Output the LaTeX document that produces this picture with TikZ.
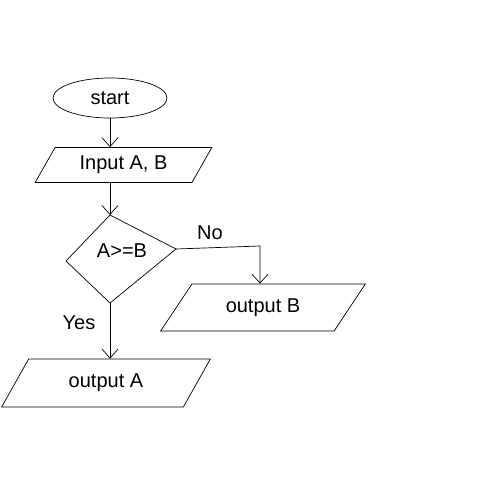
\documentclass[tikz,border=0pt]{standalone}
\usepackage{fontspec}
\setmainfont{Liberation Sans}
\usetikzlibrary{shapes.geometric,arrows.meta}
\begin{document}
\begin{tikzpicture}[x=1pt,y=-1pt,
  every node/.style={font=\fontsize{20}{22}\selectfont},
  line/.style={draw=black,line width=0.7pt},
  arr/.style={line,-{Straight Barb[length=9pt,width=16pt]}},
  term/.style={line,ellipse,minimum width=114pt,minimum height=40pt,inner sep=0pt},
  io/.style={line,trapezium,trapezium stretches=true,inner sep=0pt},
  lbl/.style={inner sep=1pt}]
\useasboundingbox (0,0) rectangle (496,480);
% start
\node[term] (start) at (110,98) {start};
% input
\node[io,minimum width=177pt,minimum height=35pt,
      trapezium left angle=54.5,trapezium right angle=125.5] (inp) at (123.5,165) {Input A, B};
% decision
\coordinate (dtop) at (110,215);
\coordinate (dright) at (176,249);
\coordinate (dbot) at (110,303);
\coordinate (dleft) at (66,261);
\draw[line] (dtop) -- (dright) -- (dbot) -- (dleft) -- cycle;
\node[lbl] (dtext) at (122,251) {A>=B};
% outputs
\node[io,minimum width=205pt,minimum height=47pt,
      trapezium left angle=47.5,trapezium right angle=132.5] (outB) at (263,307.5) {output B};
\node[io,minimum width=210pt,minimum height=48pt,
      trapezium left angle=54,trapezium right angle=126] (outA) at (106,383) {output A};
% connectors
\draw[arr] (start.south) -- (start.south |- inp.north);
\draw[arr] (inp.south -| dtop) -- (dtop);
\coordinate (nocorner) at (260,246);
\draw[arr] (dright) -- (nocorner) -- (nocorner |- outB.north);
\draw[arr] (dbot) -- (dbot |- outA.north);
% labels
\node[lbl] (nolbl) at (210,233) {No};
\node[lbl] (yeslbl) at (79,323) {Yes};
\end{tikzpicture}
\end{document}
